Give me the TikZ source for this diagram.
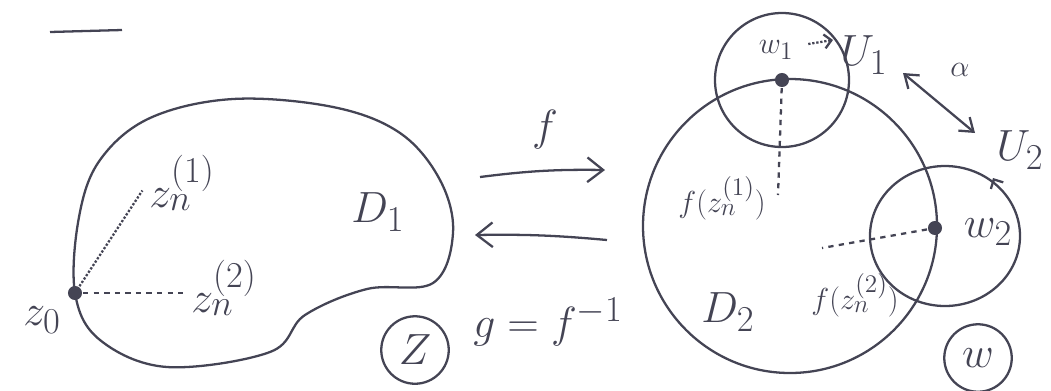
\documentclass[tikz,border=0pt]{standalone}
\usepackage{tikz}
\usetikzlibrary{positioning,arrows.meta}
\definecolor{pen}{RGB}{68,68,84}

\begin{document}
\begin{tikzpicture}[x=0.02cm, y=-0.02cm, line width=1.3pt, draw=pen,
                    every node/.style={text=pen},
                    big label/.style={font=\fontsize{30}{30}\selectfont},
                    small label/.style={font=\fontsize{19}{19}\selectfont},
                    point/.style={circle,fill=pen,inner sep=0pt,minimum size=8pt},
                    plane/.style={circle,draw,inner sep=1pt,minimum size=1.35cm,font=\fontsize{26}{26}\selectfont},
                    map arrow/.style={-{Straight Barb[length=9pt,width=14pt]}}]

  \useasboundingbox (0,0) rectangle (1051,390);

  % top underline
  \draw (50,32) -- (122,30);

  % the domain D_1
  \draw plot[smooth cycle, tension=0.6] coordinates {(75,293) (79,217) (100,160) (150,118) (233,99)
     (333,107) (400,133) (440,180) (453,233) (433,283) (367,289) (305,315) (270,352) (167,367) (100,340)};

  \node[point] (z0) at (75,293) {};
  \node[big label] (z0lab) at (42,320) {$z_0$};
  \node[big label] (zn1) at (182,183) {$z_n^{(1)}$};
  \node[big label] (zn2) at (224,288) {$z_n^{(2)}$};
  \node[big label] (D1) at (378,212) {$D_1$};
  \node[plane] (Z) at (415,350) {$Z$};

  \draw[densely dotted] (z0) -- ([yshift=-0.15cm]zn1.west);
  \draw[dashed] (z0) -- (zn2.west |- z0);

  % the maps
  \node[big label] (f) at (545,130) {$f$};
  \node[big label] (g) at (548,322) {$g=f^{-1}$};
  \coordinate (fs) at (480,177);
  \coordinate (fe) at (605,170);
  \coordinate (gs) at (607,240);
  \coordinate (ge) at (475,235);
  \draw[map arrow] (fs) to[bend left=4] (fe);
  \draw[map arrow] (gs) to[bend right=3] (ge);

  % the domain D_2 and the neighbourhoods
  \coordinate (c2) at (790,226);
  \draw (c2) circle[radius=147];
  \node[point] (w1) at (782,80) {};
  \draw (w1) circle[radius=67];
  \node[point] (w2) at (935,228) {};
  \draw (945,236) ellipse[x radius=75, y radius=70];

  \node[small label] (w1lab) at (776,50) {$w_1$};
  \node[big label] (U1) at (864,55) {$U_1$};
  \coordinate (u1tip) at (833,40);
  \draw[densely dotted,-{Straight Barb[length=4pt]}] (w1lab.east) ++(8,-6) -- (u1tip);

  \coordinate (a1) at (903,73);
  \coordinate (a2) at (975,133);
  \draw[{Straight Barb[length=7pt,width=10pt]}-{Straight Barb[length=7pt,width=10pt]}] (a1) -- (a2);
  \node[small label] (alpha) at (960,70) {$\alpha$};

  \node[big label] (U2) at (1020,150) {$U_2$};
  \coordinate (u2tip) at (993,178);
  \draw[-{Straight Barb[length=4pt]}] (U2.south west) ++(5,5) -- (u2tip);

  \node[big label] (w2lab) at (988,232) {$w_2$};

  \node[small label] (fz1) at (722,198) {$f(z_n^{(1)})$};
  \node[small label] (fz2) at (855,295) {$f(z_n^{(2)})$};
  \coordinate (d1end) at (778,195);
  \coordinate (d2end) at (822,248);
  \draw[dashed] (w1) -- (d1end);
  \draw[dashed] (w2) -- (d2end);

  \node[big label] (D2) at (728,312) {$D_2$};
  \node[plane] (W) at (978,358) {$w$};

\end{tikzpicture}
\end{document}
